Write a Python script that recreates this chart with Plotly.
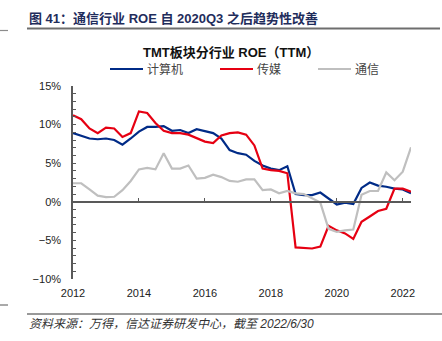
import plotly.graph_objects as go

# Quarterly TTM ROE (%), 2012Q1 - 2022Q2
quarters = [2012 + 0.25 * i for i in range(42)]

roe_computer = [
    8.9, 8.6, 8.2, 8.1, 8.2, 8.0, 7.4, 8.2, 9.1, 9.7,
    9.7, 9.8, 9.2, 9.3, 8.9, 9.4, 9.2, 8.9, 8.2, 6.7,
    6.3, 6.1, 5.3, 4.7, 4.3, 4.1, 4.6, 1.0, 0.87, 0.87,
    1.2, 0.44, -0.35, -0.1, -0.3, 1.8, 2.5, 2.1, 1.95, 1.7,
    1.6, 1.1,
]
roe_media = [
    11.2, 10.7, 9.5, 8.9, 9.6, 9.5, 8.4, 8.9, 11.7, 11.5,
    10.2, 9.2, 8.9, 8.9, 8.7, 8.2, 7.8, 7.6, 8.6, 8.9,
    9.0, 8.7, 7.3, 4.3, 4.1, 4.0, 3.7, -5.9, -6.0, -6.05,
    -5.8, -3.1, -3.7, -4.1, -4.8, -2.6, -1.9, -1.2, -0.9, 1.7,
    1.7, 1.3,
]
roe_telecom = [
    2.4, 2.4, 1.6, 0.8, 0.6, 0.65, 1.5, 2.7, 4.2, 4.4,
    4.2, 6.3, 4.3, 4.3, 4.7, 3.0, 3.1, 3.5, 3.2, 2.7,
    2.6, 2.9, 2.9, 1.5, 1.6, 1.1, 1.4, 1.1, 1.0, 0.4,
    -0.1, -3.5, -3.9, -3.7, -3.6, 0.9, 1.4, 1.4, 3.8, 2.8,
    3.9, 7.05,
]

series_names = ["计算机", "传媒", "通信"]
series_colors = ["#002B87", "#E60012", "#BFBFBF"]
year_ticks = [2012, 2014, 2016, 2018, 2020, 2022]

W, H = 442, 341
L, R, T, B = 73, 31, 86, 62
PW, PH = W - L - R, H - T - B

CJK = "Liberation Sans, Noto Sans CJK SC"


def fx(x):
    return (x - L) / PW


def fy(y):
    return (H - B - y) / PH


fig = go.Figure()
for name, vals, col in zip(series_names, [roe_computer, roe_media, roe_telecom], series_colors):
    fig.add_trace(go.Scatter(
        x=quarters, y=vals, mode="lines", name=name,
        line=dict(color=col, width=2.2), showlegend=False,
    ))

axis_col = "#595959"
fig.update_layout(
    width=W, height=H,
    margin=dict(l=L, r=R, t=T, b=B),
    paper_bgcolor="white", plot_bgcolor="white",
    font=dict(family=CJK, size=11, color="#222"),
    xaxis=dict(
        range=[2012, 2022.25], tickvals=year_ticks,
        showline=False, showgrid=False, zeroline=False, ticks="",
        ticklabelstandoff=6,
        tickfont=dict(size=11, color="#222"),
    ),
    xaxis2=dict(
        range=[2012, 2022.25], tickvals=year_ticks, overlaying="x",
        anchor="free", position=10 / 25, side="bottom",
        showline=True, linecolor=axis_col, linewidth=1.5,
        ticks="inside", ticklen=3, tickwidth=1, tickcolor=axis_col,
        showticklabels=False, showgrid=False, zeroline=False,
    ),
    yaxis=dict(
        range=[-10, 15], dtick=5, ticksuffix="%",
        showline=True, linecolor=axis_col, linewidth=1.5,
        ticks="inside", ticklen=3, tickwidth=1, tickcolor=axis_col,
        minor=dict(dtick=1, ticks="inside", ticklen=3, tickcolor=axis_col),
        showgrid=False, zeroline=False, ticklabelstandoff=8,
        tickfont=dict(size=11, color="#222"),
    ),
)

# anchor trace for the zero-line axis
fig.add_trace(go.Scatter(x=quarters, y=roe_telecom, xaxis="x2", mode="lines",
                         line=dict(width=0), hoverinfo="skip", showlegend=False))

shapes = []
annotations = []

# figure caption and rules
annotations.append(dict(
    text="<b>图 41：通信行业 ROE 自 2020Q3 之后趋势性改善</b>",
    x=fx(27), y=fy(18), xref="paper", yref="paper", xanchor="left", yanchor="middle",
    showarrow=False, font=dict(family=CJK, size=13, color="#1F2D5C"),
))
shapes.append(dict(type="line", xref="paper", yref="paper",
                   x0=fx(27), x1=fx(440), y0=fy(28.5), y1=fy(28.5),
                   line=dict(color="#6E6E6E", width=2)))
shapes.append(dict(type="line", xref="paper", yref="paper",
                   x0=fx(0), x1=fx(8), y0=fy(30.5), y1=fy(30.5),
                   line=dict(color="#8C8C8C", width=1.2)))

# chart title
annotations.append(dict(
    text="<b>TMT板块分行业 ROE（TTM）</b>",
    x=fx(231), y=fy(52), xref="paper", yref="paper", xanchor="center", yanchor="middle",
    showarrow=False, font=dict(family=CJK, size=13, color="#111"),
))

# legend
legend_x = [110, 220, 318]
for name, col, lx in zip(series_names, series_colors, legend_x):
    shapes.append(dict(type="line", xref="paper", yref="paper",
                       x0=fx(lx), x1=fx(lx + 33), y0=fy(69), y1=fy(69),
                       line=dict(color=col, width=2.2)))
    annotations.append(dict(
        text=name, x=fx(lx + 35), y=fy(69), xref="paper", yref="paper",
        xanchor="left", yanchor="middle", showarrow=False,
        font=dict(family="Noto Sans CJK SC", size=12, color="#444"),
    ))

# source note
shapes.append(dict(type="line", xref="paper", yref="paper",
                   x0=fx(27), x1=fx(442), y0=fy(314), y1=fy(314),
                   line=dict(color="#333", width=1)))
shapes.append(dict(type="line", xref="paper", yref="paper",
                   x0=fx(0), x1=fx(8), y0=fy(305), y1=fy(305),
                   line=dict(color="#555", width=1)))
annotations.append(dict(
    text="资料来源：万得，信达证券研发中心，截至 2022/6/30",
    x=fx(27), y=fy(324), xref="paper", yref="paper", xanchor="left", yanchor="middle",
    showarrow=False, font=dict(family=CJK, size=12, color="#333", style="italic"),
))

fig.update_layout(shapes=shapes, annotations=annotations)
fig.write_html("out.html")
